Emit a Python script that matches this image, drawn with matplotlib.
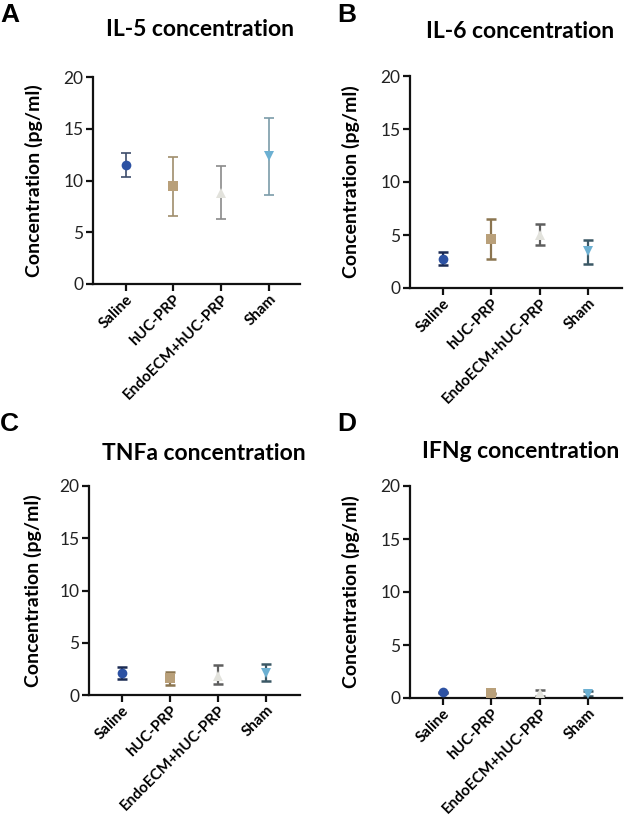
import matplotlib
matplotlib.use("Agg")
import matplotlib.pyplot as plt
import numpy as np

plt.rcParams['font.family'] = ['Lato', 'DejaVu Sans']

groups = ["Saline", "hUC-PRP", "EndoECM+hUC-PRP", "Sham"]
titles = ["IL-5 concentration", "IL-6 concentration", "TNFa concentration", "IFNg concentration"]
letters = ["A", "B", "C", "D"]

# mean, lower, upper for each panel (pg/ml)
il5_mean = [11.5, 9.45, 8.8, 12.4]
il5_low = [10.35, 6.55, 6.3, 8.6]
il5_high = [12.7, 12.3, 11.4, 16.0]

il6_mean = [2.76, 4.65, 5.0, 3.5]
il6_low = [2.2, 2.76, 4.1, 2.3]
il6_high = [3.4, 6.55, 6.0, 4.5]

tnf_mean = [2.15, 1.6, 1.8, 2.15]
tnf_low = [1.55, 1.0, 1.1, 1.3]
tnf_high = [2.7, 2.2, 2.9, 3.0]

ifn_mean = [0.55, 0.45, 0.45, 0.4]
ifn_low = [0.5, 0.4, 0.15, 0.2]
ifn_high = [0.6, 0.5, 0.8, 0.7]

yticks = [0, 5, 10, 15, 20]

panels = [
    (il5_mean, il5_low, il5_high),
    (il6_mean, il6_low, il6_high),
    (tnf_mean, tnf_low, tnf_high),
    (ifn_mean, ifn_low, ifn_high),
]

marker_shapes = ["o", "s", "^", "v"]
marker_colors = ["#2d52a3", "#b9a07a", "#e2e2dc", "#6cb0d2"]
err_colors_light = ["#3d4d6b", "#a08e6c", "#8a8a8a", "#7c9ca9"]
err_colors_dark = ["#1b2a52", "#8b7550", "#5e5e5e", "#3b5865"]

W, H = 625, 818
fig = plt.figure(figsize=(W / 100, H / 100), dpi=100)

# axes boxes in pixels: left, right, top(20), bottom(0)
boxes = [(93, 300, 77, 284), (410, 622, 76, 288), (89, 300, 486, 695), (410, 622, 486, 698)]
title_pos = [(200, 30), (520, 32), (204, 454), (521, 452)]
letter_pos = [(0, 3), (337, 3), (0, 412), (337, 412)]
ylab_x = [43, 360, 42, 360]
xlims = [(-0.68, 3.64), (-0.67, 3.70), (-0.68, 3.70), (-0.67, 3.70)]

for i, (mean, low, high) in enumerate(panels):
    l, r, t, b = boxes[i]
    ax = fig.add_axes([l / W, 1 - b / H, (r - l) / W, (b - t) / H])
    errc = err_colors_light if i == 0 else err_colors_dark
    for j in range(len(groups)):
        yerr = np.array([[mean[j] - low[j]], [high[j] - mean[j]]])
        ax.errorbar([j], [mean[j]], yerr=yerr, fmt="none", ecolor=errc[j],
                    elinewidth=1.2 if i == 0 else 1.6, capsize=3.8,
                    capthick=1.2 if i == 0 else 1.8, zorder=2)
        ax.plot([j], [mean[j]], marker=marker_shapes[j], color=marker_colors[j],
                markersize=7 if marker_shapes[j] != "s" else 6.5, linestyle="none",
                markeredgewidth=0, zorder=3, clip_on=False)
    ax.set_ylim(0, 20)
    ax.set_xlim(*xlims[i])
    ax.set_yticks(yticks)
    ax.set_yticklabels([str(v) for v in yticks], fontsize=12.5, color="#222222")
    ax.set_xticks(range(len(groups)))
    ax.set_xticklabels(groups, rotation=45, ha="right", rotation_mode="anchor",
                       fontsize=11, fontweight="bold")
    for s in ["top", "right"]:
        ax.spines[s].set_visible(False)
    for s in ["left", "bottom"]:
        ax.spines[s].set_linewidth(1.6)
        ax.spines[s].set_color("#111111")
    ax.tick_params(axis="both", width=1.6, length=5, color="#111111", pad=2)
    ax.tick_params(axis="x", pad=1)
    ax.set_ylabel("Concentration (pg/ml)", fontsize=14, fontweight="bold")
    ax.yaxis.set_label_coords((ylab_x[i] - l) / (r - l), 0.5)
    tx, ty = title_pos[i]
    fig.text(tx / W, 1 - ty / H, titles[i], fontsize=16.5, fontweight="bold",
             ha="center", va="center")
    lx, ly = letter_pos[i]
    fig.text(lx / W, 1 - ly / H, letters[i], fontsize=19, fontweight="bold",
             ha="left", va="top", family=["Liberation Sans", "DejaVu Sans"])

fig.savefig("out.png", dpi=100)
